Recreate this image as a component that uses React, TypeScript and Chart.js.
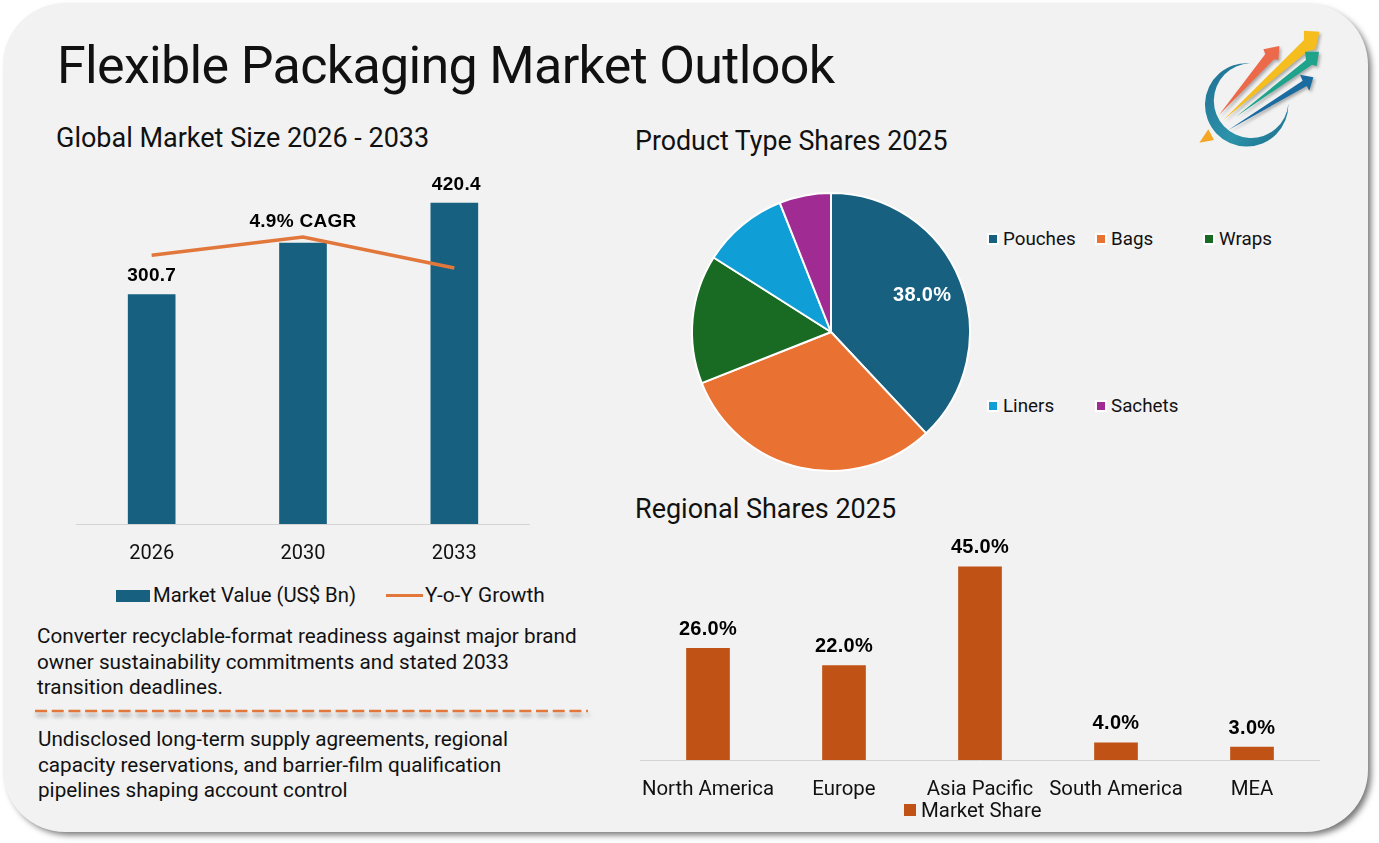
import Chart from "chart.js/auto";
import { useRef, useEffect } from "react";
import type { CSSProperties } from "react";

const years = ["2026", "2030", "2033"];
const marketValue = [300.7, 368, 420.4];
const yoyGrowth = [4.43, 4.73, 4.22];
const cagrLabel = "4.9% CAGR";

const productTypes = ["Pouches", "Bags", "Wraps", "Liners", "Sachets"];
const productShares = [38, 31, 15, 10, 6];
const productColors = ["#17607F", "#E97132", "#196B24", "#0F9ED5", "#A02B93"];

const regions = ["North America", "Europe", "Asia Pacific", "South America", "MEA"];
const regionShares = [26, 22, 45, 4, 3];

const noteTop = [
  "Converter recyclable-format readiness against major brand",
  "owner sustainability commitments and stated 2033",
  "transition deadlines.",
];
const noteBottom = [
  "Undisclosed long-term supply agreements, regional",
  "capacity reservations, and barrier-film qualification",
  "pipelines shaping account control",
];

const BLUE = "#17607F";
const ORANGE = "#E2773C";
const RUST = "#C05215";
const UI_FONT = "Roboto, sans-serif";

function drawLabel(ctx: CanvasRenderingContext2D, text: string, x: number, y: number, color = "#000", size = 19) {
  ctx.save();
  ctx.font = `bold ${size}px 'Liberation Sans', Arial, sans-serif`;
  (ctx as any).letterSpacing = "0.3px";
  ctx.fillStyle = color;
  ctx.textAlign = "center";
  ctx.textBaseline = "middle";
  ctx.fillText(text, x, y);
  ctx.restore();
}

// tick labels may hang over the plot edges, keep the full width for the bars
function fitXAxis(s: any) {
  s.height = 40;
  s.paddingLeft = 0;
  s.paddingRight = 0;
}

function MarketChart() {
  const ref = useRef<HTMLCanvasElement>(null);
  useEffect(() => {
    if (!ref.current) return;
    const chart = new Chart(ref.current, {
      data: {
        labels: years,
        datasets: [
          { type: "line", label: "Y-o-Y Growth", data: yoyGrowth, yAxisID: "y2", borderColor: ORANGE, borderWidth: 3.5, pointRadius: 0, tension: 0, order: 1 },
          { type: "bar", label: "Market Value (US$ Bn)", data: marketValue, backgroundColor: BLUE, barThickness: 47, order: 2 },
        ],
      } as any,
      options: {
        animation: false,
        responsive: true,
        maintainAspectRatio: false,
        layout: { padding: 0 },
        scales: {
          x: {
            afterFit: fitXAxis,
            grid: { display: false },
            border: { color: "#D4D4D4" },
            ticks: { color: "#111", padding: 10, font: { family: UI_FONT, size: 20 } },
          },
          y: { display: false, min: 0, max: 477 },
          y2: { display: false, min: 0, max: 6 },
        },
        plugins: { legend: { display: false }, tooltip: { enabled: false } },
      } as any,
      plugins: [
        {
          id: "valueLabels",
          afterDatasetsDraw(c: any) {
            const bars = c.getDatasetMeta(1).data;
            const line = c.getDatasetMeta(0).data;
            drawLabel(c.ctx, String(marketValue[0]), bars[0].x, bars[0].y - 18.5);
            drawLabel(c.ctx, String(marketValue[2]), bars[2].x + 2, bars[2].y - 18.5);
            drawLabel(c.ctx, cagrLabel, line[1].x, line[1].y - 15.5);
          },
        },
      ],
    });
    return () => chart.destroy();
  }, []);
  return <canvas ref={ref} />;
}

function ProductPie() {
  const ref = useRef<HTMLCanvasElement>(null);
  useEffect(() => {
    if (!ref.current) return;
    const chart = new Chart(ref.current, {
      type: "pie",
      data: {
        labels: productTypes,
        datasets: [{ data: productShares, backgroundColor: productColors, borderColor: "#fff", borderWidth: 2 }],
      },
      options: {
        animation: false,
        responsive: true,
        maintainAspectRatio: false,
        layout: { padding: 5 },
        plugins: { legend: { display: false }, tooltip: { enabled: false } },
      },
      plugins: [
        {
          id: "pieLabel",
          afterDatasetsDraw(c: any) {
            const arc = c.getDatasetMeta(0).data[0];
            const { x, y, startAngle, endAngle, outerRadius } = arc.getProps(["x", "y", "startAngle", "endAngle", "outerRadius"]);
            const mid = (startAngle + endAngle) / 2;
            const r = outerRadius * 0.705;
            drawLabel(c.ctx, `${productShares[0].toFixed(1)}%`, x + Math.cos(mid) * r, y + Math.sin(mid) * r, "#fff", 20);
          },
        },
      ],
    });
    return () => chart.destroy();
  }, []);
  return <canvas ref={ref} />;
}

function RegionChart() {
  const ref = useRef<HTMLCanvasElement>(null);
  useEffect(() => {
    if (!ref.current) return;
    const chart = new Chart(ref.current, {
      type: "bar",
      data: {
        labels: regions,
        datasets: [{ label: "Market Share", data: regionShares, backgroundColor: RUST, barThickness: 43 }],
      },
      options: {
        animation: false,
        responsive: true,
        maintainAspectRatio: false,
        scales: {
          x: {
            afterFit: fitXAxis,
            grid: { display: false },
            border: { color: "#D4D4D4" },
            ticks: { color: "#111", padding: 10, font: { family: UI_FONT, size: 20.4 }, maxRotation: 0, autoSkip: false },
          },
          y: { display: false, min: 0, max: 53.6 },
        },
        plugins: { legend: { display: false }, tooltip: { enabled: false } },
      } as any,
      plugins: [
        {
          id: "valueLabels",
          afterDatasetsDraw(c: any) {
            c.getDatasetMeta(0).data.forEach((bar: any, i: number) => {
              drawLabel(c.ctx, `${regionShares[i].toFixed(1)}%`, bar.x, bar.y - 19, "#000", 20);
            });
          },
        },
      ],
    });
    return () => chart.destroy();
  }, []);
  return <canvas ref={ref} />;
}

function Text({ x, y, size, children, spacing = 0 }: { x: number; y: number; size: number; children: any; spacing?: number }) {
  const style: CSSProperties = {
    position: "absolute",
    left: x,
    top: y,
    transform: "translateY(-50%)",
    fontFamily: UI_FONT,
    fontSize: size,
    lineHeight: 1,
    letterSpacing: spacing,
    color: "#111",
    whiteSpace: "nowrap",
  };
  return <div style={style}>{children}</div>;
}

function Swatch({ x, y, w, h, color, halo }: { x: number; y: number; w: number; h: number; color: string; halo?: boolean }) {
  return (
    <div
      style={{
        position: "absolute",
        left: x,
        top: y,
        width: w,
        height: h,
        background: color,
        boxShadow: halo ? "0 0 0 2px #fff" : undefined,
      }}
    />
  );
}

function Box({ x, y, w, h, children }: { x: number; y: number; w: number; h: number; children: any }) {
  return <div style={{ position: "absolute", left: x, top: y, width: w, height: h }}>{children}</div>;
}

function Logo() {
  return (
    <svg style={{ position: "absolute", left: 1150, top: 0 }} width={229} height={170} viewBox="0 0 687 510">
      <defs>
        <linearGradient id="ring" x1="0" y1="0" x2="1" y2="1">
          <stop offset="0" stopColor="#1F6E92" />
          <stop offset="0.6" stopColor="#2C93AB" />
          <stop offset="1" stopColor="#1D6C8A" />
        </linearGradient>
      </defs>
      <path d="M300 190 A125 125 0 1 0 415 312 A112 112 0 1 1 300 190 Z" fill="url(#ring)" />
      <polygon points="148,428 175,388 192,420" fill="#F5A623" />
      <g style={{ filter: "drop-shadow(5px 6px 5px rgba(0,0,0,0.3))" }}>
        <polygon points="207,345 346,162 340,148 388,138 385,180 372,178" fill="#EC6A4A" />
        <polygon points="220,360 462,120 462,92 508,95 497,148 475,152" fill="#F5BE1E" />
        <polygon points="258,350 468,180 465,155 507,155 500,198 486,194" fill="#1FA38A" />
        <polygon points="235,390 458,242 450,224 490,232 478,272 470,258" fill="#1A6CA0" />
      </g>
    </svg>
  );
}

export default function App() {
  useEffect(() => {
    document.body.style.margin = "0";
    document.body.style.background = "#fff";
  }, []);

  const pieLegendPos = [
    { x: 989, y: 239 },
    { x: 1097, y: 239 },
    { x: 1205, y: 239 },
    { x: 989, y: 406 },
    { x: 1097, y: 406 },
  ];

  return (
    <div style={{ position: "relative", width: 1379, height: 843, overflow: "hidden" }}>
      <div
        style={{
          position: "absolute",
          left: 3,
          top: 3,
          width: 1365,
          height: 829,
          borderRadius: 62,
          background: "#F2F2F2",
          boxShadow: "4px 4px 6px -1px rgba(0,0,0,0.55)",
        }}
      />
      <Logo />

      <Text x={57} y={66} size={52} spacing={-0.67}>Flexible Packaging Market Outlook</Text>
      <Text x={56} y={138} size={27}>Global Market Size 2026 - 2033</Text>
      <Text x={635} y={140.5} size={26.8}>Product Type Shares 2025</Text>
      <Text x={635} y={509} size={27}>Regional Shares 2025</Text>

      <Box x={75.5} y={160} w={454} h={404}><MarketChart /></Box>
      <Box x={686} y={187} w={290} h={290}><ProductPie /></Box>
      <Box x={640} y={530} w={680} h={270}><RegionChart /></Box>

      <Swatch x={116} y={590} w={34} h={12} color={BLUE} />
      <Text x={153} y={595} size={20.3}>Market Value (US$ Bn)</Text>
      <Swatch x={386} y={594} w={37} h={3} color={ORANGE} />
      <Text x={425} y={595} size={20.8}>Y-o-Y Growth</Text>

      {productTypes.map((name, i) => (
        <div key={name}>
          <Swatch x={pieLegendPos[i].x} y={pieLegendPos[i].y - 4} w={8} h={8} color={productColors[i]} halo />
          <Text x={pieLegendPos[i].x + 14} y={pieLegendPos[i].y} size={18.8}>{name}</Text>
        </div>
      ))}

      <Swatch x={904} y={804} w={12} h={12} color={RUST} />
      <Text x={921} y={810} size={20.4}>Market Share</Text>

      {noteTop.map((line, i) => (
        <Text key={line} x={37} y={636 + i * 25.5} size={20.7}>{line}</Text>
      ))}
      <svg style={{ position: "absolute", left: 30, top: 700 }} width={570} height={24}>
        <line x1={5} y1={11} x2={558} y2={11} stroke={ORANGE} strokeWidth={2.5} strokeDasharray="12 4.7" style={{ filter: "drop-shadow(1px 4px 2px rgba(0,0,0,0.35))" }} />
      </svg>
      {noteBottom.map((line, i) => (
        <Text key={line} x={38} y={739 + i * 25.5} size={20.7}>{line}</Text>
      ))}
    </div>
  );
}
